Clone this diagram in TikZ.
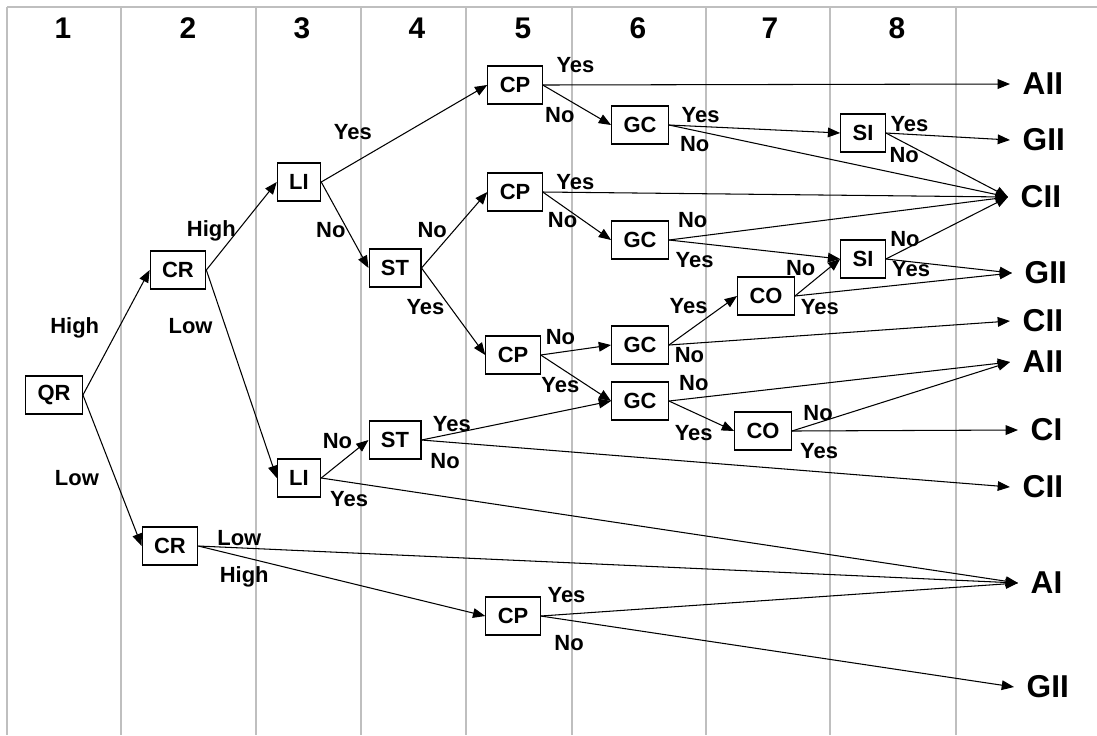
\documentclass[tikz,border=0pt]{standalone}
\usepackage{fontspec}
\setmainfont{Liberation Sans}
\usetikzlibrary{arrows.meta}

\begin{document}
\begin{tikzpicture}
[x=0.02cm, y=-0.02cm,
 box/.style={draw, line width=0.6pt, inner xsep=6.8pt, minimum height=0.76cm,
   font=\bfseries\fontsize{12.5}{14}\selectfont},
 lbl/.style={inner sep=1pt, font=\bfseries\fontsize{12.5}{14}\selectfont},
 res/.style={anchor=west, inner sep=7pt, font=\bfseries\fontsize{18}{20}\selectfont},
 hdr/.style={font=\bfseries\fontsize{17}{19}\selectfont},
 arr/.style={line width=0.6pt, -{Triangle[length=7pt,width=5.5pt]}}]
\useasboundingbox (0,0) rectangle (1097,735);
\fill[white] (0,0) rectangle (1097,735);
% column grid
\draw[black!25, line width=1.1pt] (7,7) -- (1097,7) (7,7) -- (7,735)
  (121,7) -- (121,735) (256,7) -- (256,735) (361,7) -- (361,735)
  (466,7) -- (466,735) (572,7) -- (572,735) (706,7) -- (706,735)
  (830,7) -- (830,735) (956,7) -- (956,735);
\node[hdr] (h1) at (63,28) {1};
\node[hdr] (h2) at (188,28) {2};
\node[hdr] (h3) at (302,28) {3};
\node[hdr] (h4) at (417,28) {4};
\node[hdr] (h5) at (523,28) {5};
\node[hdr] (h6) at (638,28) {6};
\node[hdr] (h7) at (770,28) {7};
\node[hdr] (h8) at (897,28) {8};

% decision boxes
\node[box] (QR) at (54,395) {QR};
\node[box] (CRa) at (178,270) {CR};
\node[box] (CRb) at (170,546) {CR};
\node[box] (LIa) at (299,182) {LI};
\node[box] (LIb) at (299,478) {LI};
\node[box] (STa) at (395,268) {ST};
\node[box] (STb) at (395,440) {ST};
\node[box] (CPa) at (515,85) {CP};
\node[box] (CPb) at (515,192) {CP};
\node[box] (CPc) at (513,355) {CP};
\node[box] (CPd) at (513,616) {CP};
\node[box] (GCa) at (640,125) {GC};
\node[box] (GCb) at (640,240) {GC};
\node[box] (GCc) at (640,345) {GC};
\node[box] (GCd) at (640,401) {GC};
\node[box] (COa) at (766,296) {CO};
\node[box] (COb) at (763,431) {CO};
\node[box] (SIa) at (863,133) {SI};
\node[box] (SIb) at (863,259) {SI};

% results
\node[res] (AIIa) at (1010,84) {AII};
\node[res] (GIIa) at (1010,140) {GII};
\node[res] (CIIa) at (1008,197) {CII};
\node[res] (GIIb) at (1012,273) {GII};
\node[res] (CIIb) at (1010,321) {CII};
\node[res] (AIIb) at (1010,362) {AII};
\node[res] (CI) at (1018,430) {CI};
\node[res] (CIIc) at (1010,487) {CII};
\node[res] (AI) at (1018,583) {AI};
\node[res] (GIIc) at (1014,687) {GII};

\path[arr] (QR.east) edge node[lbl,pos=.54,left=10pt]{High} (CRa.west);
\path[arr] (QR.east) edge node[lbl,pos=.55,left=8pt]{Low} (CRb.west);
\path[arr] (CRa.east) edge node[lbl,pos=.45,left]{High} (LIa.west);
\path[arr] (CRa.east) edge node[lbl,pos=.27,left=6pt]{Low} (LIb.west);
\path[arr] (CRb.east) edge node[lbl,pos=.05,above]{Low} (AI.west);
\path[arr] (CRb.east) edge node[lbl,pos=.16,below=4pt]{High} (CPd.west);
\path[arr] (LIa.east) edge node[lbl,pos=.19,above=12pt]{Yes} (CPa.west);
\path[arr] (LIa.east) edge node[lbl,pos=.56,left]{No} (STa.west);
\path[arr] (LIb.east) edge node[lbl,pos=.7,above left]{No} (STb.west);
\path[arr] (LIb.east) edge node[lbl,pos=.04,below=4pt]{Yes} (AI.west);
\path[arr] (STa.east) edge node[lbl,pos=.5,left=3pt]{No} (CPb.west);
\path[arr] (STa.east) edge node[lbl,pos=.45,left=2pt]{Yes} (CPc.west);
\path[arr] (STb.east) edge node[lbl,pos=.16,above]{Yes} (GCd.west);
\path[arr] (STb.east) edge node[lbl,pos=.04,below=5pt]{No} (CIIc.west);
\path[arr] (CPa.east) edge node[lbl,pos=.07,above=5.5pt]{Yes} (AIIa.west);
\path[arr] (CPa.east) edge node[lbl,pos=.25,below=6pt]{No} (GCa.west);
\path[arr] (CPb.east) edge node[lbl,pos=.07,above]{Yes} (CIIa.west);
\path[arr] (CPb.east) edge node[lbl,pos=.29,below=2.5pt]{No} (GCb.west);
\path[arr] (CPc.east) edge node[lbl,pos=.28,above=3pt]{No} (GCc.west);
\path[arr] (CPc.east) edge node[lbl,pos=.28,below=4pt]{Yes} (GCd.west);
\path[arr] (CPd.east) edge node[lbl,pos=.054,above=5.5pt]{Yes} (AI.west);
\path[arr] (CPd.east) edge node[lbl,pos=.06,below=7.5pt]{No} (GIIc.west);
\path[arr] (GCa.east) edge node[lbl,pos=.185,above=1pt]{Yes} (SIa.west);
\path[arr] (GCa.east) edge node[lbl,pos=.076,below=2pt]{No} (CIIa.west);
\path[arr] (GCb.east) edge node[lbl,pos=.07,above=4pt]{No} (CIIa.west);
\path[arr] (GCb.east) edge node[lbl,pos=.15,below=4pt]{Yes} (SIb.west);
\path[arr] (GCc.east) edge node[lbl,pos=.6,above left]{Yes} (COa.west);
\path[arr] (GCc.east) edge node[lbl,pos=.06,below=1pt]{No} (CIIb.west);
\path[arr] (GCd.east) edge node[lbl,pos=.073,above=3pt]{No} (AIIb.west);
\path[arr] (GCd.east) edge node[lbl,pos=.38,below=6pt]{Yes} (COb.west);
\path[arr] (COa.east) edge node[lbl,pos=.5,above left]{No} (SIb.west);
\path[arr] (COa.east) edge node[lbl,pos=.115,below=2pt]{Yes} (GIIb.west);
\path[arr] (COb.east) edge node[lbl,pos=.12,above=0pt]{No} (AIIb.west);
\path[arr] (COb.east) edge node[lbl,pos=.12,below=6pt]{Yes} (CI.west);
\path[arr] (SIa.east) edge node[lbl,pos=.19,above=0pt]{Yes} (GIIa.west);
\path[arr] (SIa.east) edge node[lbl,pos=.15,below=1.5pt]{No} (CIIa.west);
\path[arr] (SIb.east) edge node[lbl,pos=.156,above=0pt]{No} (CIIa.west);
\path[arr] (SIb.east) edge node[lbl,pos=.2,below=-1.5pt]{Yes} (GIIb.west);
\end{tikzpicture}
\end{document}
